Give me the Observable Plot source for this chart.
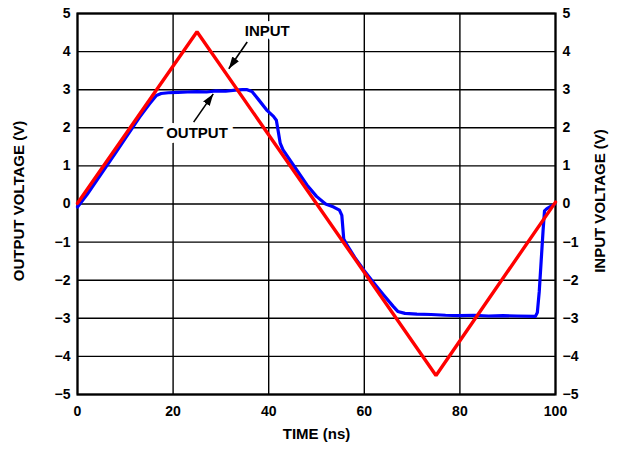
<!DOCTYPE html>
<html><head><meta charset="utf-8">
<script src="https://cdn.jsdelivr.net/npm/d3@7"></script>
<script src="https://cdn.jsdelivr.net/npm/@observablehq/plot@0.6"></script>
<style>body{margin:0;background:#fff}</style>
</head><body><div id="chart"></div>
<script>
// ---- data ----
const xTicks = [0, 20, 40, 60, 80, 100];
const yTicks = [-5, -4, -3, -2, -1, 0, 1, 2, 3, 4, 5];

const inputTime = [0, 25, 75, 100];
const inputVolt = [0.02, 4.52, -4.5, 0.05];

const outputTime = [0, 2, 5, 8, 10, 13, 15, 16.5, 17.5, 19, 21, 23, 25, 27, 29, 31, 33, 34.5, 35.5, 36.5, 38, 39.7, 41, 41.6, 42, 42.4, 43, 45, 48, 50, 51.9, 53.6, 54.8, 55.3, 55.7, 56.4, 58, 60, 62, 64, 66, 67, 68.5, 71, 74, 77, 80, 83, 86, 89, 92, 95.8, 96.2, 96.6, 97, 97.4, 97.7, 98.2, 99, 99.7];
const outputVolt = [-0.08, 0.25, 0.8, 1.35, 1.72, 2.28, 2.62, 2.85, 2.9, 2.92, 2.93, 2.94, 2.95, 2.94, 2.97, 2.96, 2.99, 3.0, 3.0, 2.95, 2.72, 2.45, 2.3, 2.2, 1.9, 1.6, 1.42, 1.05, 0.5, 0.2, 0.0, -0.08, -0.16, -0.3, -0.92, -1.08, -1.4, -1.75, -2.07, -2.38, -2.68, -2.82, -2.87, -2.89, -2.9, -2.92, -2.93, -2.92, -2.94, -2.93, -2.94, -2.95, -2.85, -2.3, -1.5, -0.7, -0.18, -0.12, -0.06, -0.02];

const labelText = ["INPUT", "OUTPUT"];
const labelTime = [39.7, 25.0];
const labelVolt = [4.54, 1.86];

const arrowFromTime = [35.5, 24.3];
const arrowFromVolt = [4.25, 2.15];
const arrowToTime = [31.65, 28.4];
const arrowToVolt = [3.55, 2.89];

const axisTitles = ["TIME (ns)", "OUTPUT VOLTAGE (V)", "INPUT VOLTAGE (V)"];

// ---- tables ----
const inputData = inputTime.map((t, i) => ({t, v: inputVolt[i]}));
const outputData = outputTime.map((t, i) => ({t, v: outputVolt[i]}));
const labels = labelText.map((s, i) => ({s, t: labelTime[i], v: labelVolt[i]}));
const arrows = arrowFromTime.map((t, i) => ({t1: t, v1: arrowFromVolt[i], t2: arrowToTime[i], v2: arrowToVolt[i]}));

const chart = Plot.plot({
  width: 617,
  height: 450,
  marginLeft: 77,
  marginRight: 62,
  marginTop: 13,
  marginBottom: 56,
  style: "font-family: 'Liberation Sans', Arial, sans-serif; font-size: 14px; font-weight: bold; background: white; color: black; overflow: visible;",
  x: {domain: [0, 100]},
  y: {domain: [-5, 5]},
  marks: [
    Plot.gridX(xTicks, {stroke: "#000", strokeOpacity: 1, strokeWidth: 1.4}),
    Plot.gridY(yTicks, {stroke: "#000", strokeOpacity: 1, strokeWidth: 1.4}),
    Plot.text(labels, {x: "t", y: "v", text: "s", fontSize: 15, fontWeight: "bold", fill: "black", stroke: "white", strokeWidth: 10, strokeLinejoin: "round"}),
    Plot.frame({stroke: "#000", strokeWidth: 2.2}),
    Plot.axisX(xTicks, {tickSize: 0, tickPadding: 12, label: null, fontSize: 14, fontWeight: "bold"}),
    Plot.axisY(yTicks, {anchor: "left", tickSize: 0, tickPadding: 7, label: null, fontSize: 14, fontWeight: "bold"}),
    Plot.axisY(yTicks, {anchor: "right", tickSize: 0, tickPadding: 7, label: null, fontSize: 14, fontWeight: "bold"}),
    Plot.line(outputData, {x: "t", y: "v", stroke: "#0000ff", strokeWidth: 3.2}),
    Plot.line(inputData, {x: "t", y: "v", stroke: "#ff0000", strokeWidth: 3.4, strokeLinejoin: "miter"}),
    Plot.link(arrows, {x1: "t1", y1: "v1", x2: "t2", y2: "v2", stroke: "#000", strokeWidth: 1.6}),
    Plot.text([axisTitles[0]], {frameAnchor: "bottom", dy: 44, fontSize: 15, fontWeight: "bold", fill: "black"}),
    Plot.text([axisTitles[1]], {frameAnchor: "left", dx: -58.5, dy: -3, rotate: -90, textAnchor: "middle", fontSize: 15, fontWeight: "bold", fill: "black"}),
    Plot.text([axisTitles[2]], {frameAnchor: "right", dx: 45, dy: -3, rotate: -90, textAnchor: "middle", fontSize: 15, fontWeight: "bold", fill: "black"})
  ]
});

document.getElementById("chart").appendChild(chart);

// filled arrow heads
const svg = d3.select(chart);
const defs = svg.insert("defs", ":first-child");
defs.append("marker")
  .attr("id", "headFill")
  .attr("viewBox", "0 -5 12 10")
  .attr("refX", 12).attr("refY", 0)
  .attr("markerWidth", 12).attr("markerHeight", 10)
  .attr("markerUnits", "userSpaceOnUse")
  .attr("orient", "auto")
  .append("path").attr("d", "M0,-4L12,0L0,4Z").attr("fill", "#000");
svg.selectAll('g[aria-label="link"] path').attr("marker-end", "url(#headFill)");
</script>
</body></html>
